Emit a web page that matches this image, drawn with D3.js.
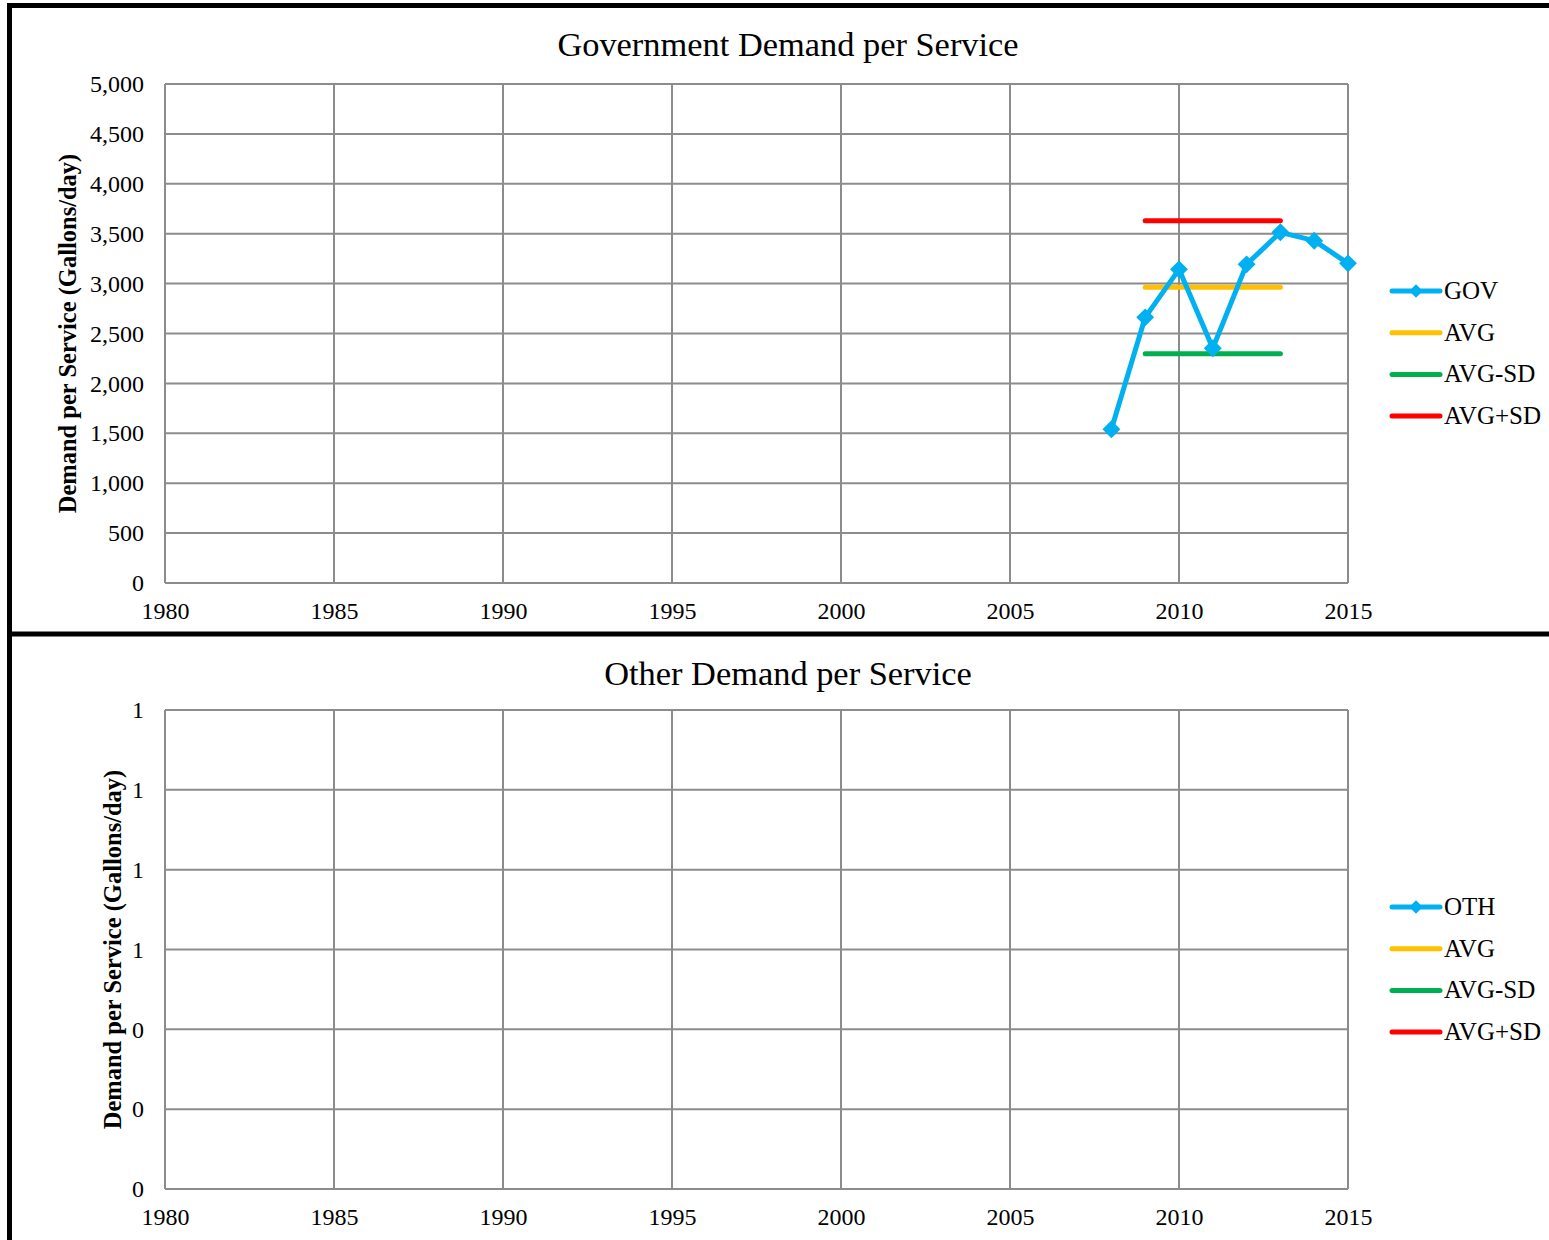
<!DOCTYPE html>
<html><head><meta charset="utf-8">
<script src="https://cdn.jsdelivr.net/npm/d3@7"></script>
<style>body{margin:0;background:#fff}svg{display:block}</style>
</head><body>
<svg id="c" width="1549" height="1240"></svg>
<script>
// ---- data ----
const govYears = [2008, 2009, 2010, 2011, 2012, 2013, 2014, 2015];
const govValues = [1540, 2662, 3143, 2352, 3193, 3514, 3430, 3203];
const govStatYears = [2009, 2013];
const govAvg = 2963;
const govAvgMinusSd = 2298;
const govAvgPlusSd = 3631;
const govYTicks = [0, 500, 1000, 1500, 2000, 2500, 3000, 3500, 4000, 4500, 5000];

const othYears = [];
const othValues = [];
const othYTicks = [0, 0.2, 0.4, 0.6, 0.8, 1.0, 1.2];

const xTicks = [1980, 1985, 1990, 1995, 2000, 2005, 2010, 2015];
const legendGov = ["GOV", "AVG", "AVG-SD", "AVG+SD"];
const legendOth = ["OTH", "AVG", "AVG-SD", "AVG+SD"];
const colors = ["#00B0F0", "#FFC000", "#00B050", "#FF0000"];

const svg = d3.select("#c");
const FONT = "'Liberation Serif','Times New Roman',serif";

// frame
svg.append("rect").attr("x", 9.5).attr("y", 5.5).attr("width", 1600).attr("height", 1300)
  .attr("fill", "none").attr("stroke", "#000").attr("stroke-width", 5);
svg.append("line").attr("x1", 9).attr("x2", 1549).attr("y1", 634).attr("y2", 634)
  .attr("stroke", "#000").attr("stroke-width", 5);

function drawChart(cfg) {
  const g = svg.append("g");
  const x = d3.scaleLinear().domain([1980, 2015]).range([165, 1348]);
  const y = d3.scaleLinear().domain(cfg.yDomain).range([cfg.bottom, cfg.top]);

  // gridlines
  g.append("g").selectAll("line").data(cfg.yTicks).join("line")
    .attr("x1", 165).attr("x2", 1348).attr("y1", d => y(d)).attr("y2", d => y(d))
    .attr("stroke", "#8c8c8c").attr("stroke-width", 2);
  g.append("g").selectAll("line").data(xTicks).join("line")
    .attr("y1", cfg.top).attr("y2", cfg.bottom).attr("x1", d => x(d)).attr("x2", d => x(d))
    .attr("stroke", "#8c8c8c").attr("stroke-width", 2);

  // axes labels
  const yAxis = d3.axisLeft(y).tickValues(cfg.yTicks).tickFormat(cfg.yFmt).tickSize(0).tickPadding(21);
  const ya = g.append("g").attr("transform", "translate(165,0)").call(yAxis);
  ya.select(".domain").remove();
  ya.selectAll("text").attr("font-family", FONT).attr("font-size", 24).attr("fill", "#000");

  const xAxis = d3.axisBottom(x).tickValues(xTicks).tickFormat(d3.format("d")).tickSize(0).tickPadding(19);
  const xa = g.append("g").attr("transform", `translate(0,${cfg.bottom})`).call(xAxis);
  xa.select(".domain").remove();
  xa.selectAll("text").attr("font-family", FONT).attr("font-size", 24).attr("fill", "#000");

  // title
  g.append("text").attr("x", 788).attr("y", cfg.titleY).attr("text-anchor", "middle")
    .attr("font-family", FONT).attr("font-size", 34.4).text(cfg.title);
  // y axis title
  g.append("text").attr("transform", `translate(${cfg.ytX},${(cfg.top + cfg.bottom) / 2}) rotate(-90)`)
    .attr("text-anchor", "middle").attr("font-family", FONT).attr("font-size", 24.5)
    .attr("font-weight", "bold").text("Demand per Service (Gallons/day)");

  // stat lines
  const stats = [cfg.avg, cfg.avgMinus, cfg.avgPlus];
  stats.forEach((v, i) => {
    if (v == null) return;
    g.append("line").attr("x1", x(cfg.statYears[0])).attr("x2", x(cfg.statYears[1]))
      .attr("y1", y(v)).attr("y2", y(v)).attr("stroke", colors[i + 1])
      .attr("stroke-width", 5).attr("stroke-linecap", "round");
  });

  // series
  const pts = cfg.years.map((yr, i) => [yr, cfg.values[i]]);
  if (pts.length) {
    g.append("path").datum(pts)
      .attr("d", d3.line().x(d => x(d[0])).y(d => y(d[1])))
      .attr("fill", "none").attr("stroke", colors[0]).attr("stroke-width", 5).attr("stroke-linejoin", "round");
    g.append("g").selectAll("path").data(pts).join("path")
      .attr("d", d3.symbol(d3.symbolSquare, 160))
      .attr("transform", d => `translate(${x(d[0])},${y(d[1])}) rotate(45)`)
      .attr("fill", colors[0]);
  }

  // legend
  cfg.legend.forEach((name, i) => {
    const ly = cfg.legendY + i * 41.7;
    g.append("line").attr("x1", 1392).attr("x2", 1440).attr("y1", ly).attr("y2", ly)
      .attr("stroke", colors[i]).attr("stroke-width", 5).attr("stroke-linecap", "round");
    if (i === 0) {
      g.append("path").attr("d", d3.symbol(d3.symbolSquare, 90)())
        .attr("transform", `translate(1416,${ly}) rotate(45)`).attr("fill", colors[0]);
    }
    g.append("text").attr("x", 1444).attr("y", ly + 8).attr("font-family", FONT)
      .attr("font-size", 25).text(name);
  });
}

drawChart({
  title: "Government Demand per Service", titleY: 56, top: 84, bottom: 583,
  yDomain: [0, 5000], yTicks: govYTicks, yFmt: d3.format(","), ytX: 76,
  years: govYears, values: govValues, statYears: govStatYears,
  avg: govAvg, avgMinus: govAvgMinusSd, avgPlus: govAvgPlusSd,
  legend: legendGov, legendY: 291
});
drawChart({
  title: "Other Demand per Service", titleY: 685, top: 710, bottom: 1189,
  yDomain: [0, 1.2], yTicks: othYTicks, yFmt: d3.format(".0f"), ytX: 121,
  years: othYears, values: othValues, statYears: govStatYears,
  avg: null, avgMinus: null, avgPlus: null,
  legend: legendOth, legendY: 907
});
</script>
</body></html>
